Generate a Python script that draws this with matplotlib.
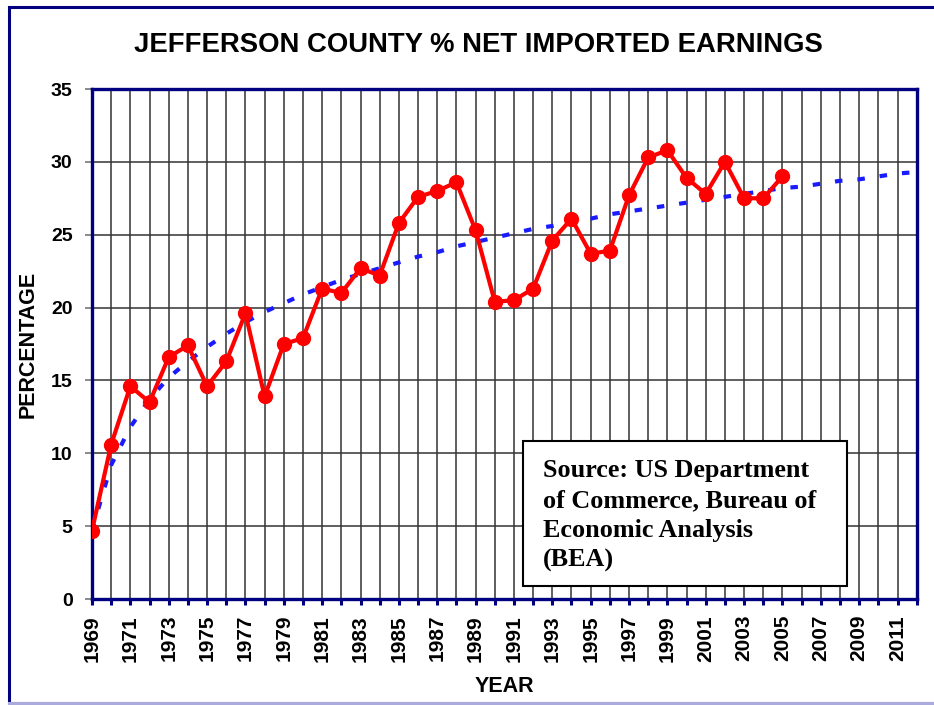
import numpy as np
import matplotlib
matplotlib.use("Agg")
import matplotlib.pyplot as plt
from matplotlib.patches import Rectangle
from matplotlib.lines import Line2D

# Data
years = list(range(1969, 2006))
pct = [4.7, 10.6, 14.6, 13.5, 16.6, 17.4, 14.6, 16.3, 19.6, 13.9,
       17.5, 17.9, 21.3, 21.0, 22.7, 22.2, 25.8, 27.6, 28.0, 28.6,
       25.3, 20.4, 20.5, 21.3, 24.6, 26.1, 23.7, 23.9, 27.7, 30.3,
       30.8, 28.9, 27.8, 30.0, 27.5, 27.5, 29.0]

# log trend line as drawn in the reference (read per year)
trend_years = list(range(1969, 2013))
trend = [4.7, 9.2, 11.8, 13.7, 15.2, 16.3, 17.3, 18.2, 19.0, 19.7,
         20.3, 20.9, 21.4, 21.9, 22.3, 22.7, 23.1, 23.5, 23.8, 24.2,
         24.5, 24.8, 25.1, 25.4, 25.6, 25.9, 26.1, 26.4, 26.6, 26.8,
         27.0, 27.2, 27.4, 27.6, 27.8, 28.0, 28.2, 28.3, 28.5, 28.7,
         28.8, 29.0, 29.2, 29.3]

year_ticks = list(range(1969, 2013))
year_labels = [str(y) if (y - 1969) % 2 == 0 else "" for y in year_ticks]
pct_ticks = [0, 5, 10, 15, 20, 25, 30, 35]

title = "JEFFERSON COUNTY % NET IMPORTED EARNINGS"
source_lines = ["Source: US Department", "of Commerce, Bureau of",
                "Economic Analysis", "(BEA)"]

navy = "#000080"
sans = "Liberation Sans"
serif = "Liberation Serif"

fig = plt.figure(figsize=(9.34, 7.05), dpi=100)
ax = fig.add_axes([92 / 934, 1 - 599 / 705, 824.7 / 934, 510 / 705])

ax.plot(trend_years, trend, color="#1a1aff", lw=3,
        linestyle=(0, (1.8, 3.6)), zorder=3)
ax.plot(years, pct, color="#ff0000", lw=3, marker="o", markersize=10,
        markeredgecolor="#ff0000", zorder=4)

ax.set_xlim(1969, 2012)
ax.set_ylim(0, 35)
ax.set_xticks(year_ticks)
ax.set_xticklabels(year_labels, rotation=90, fontsize=15,
                   fontweight="bold", family=sans)
ax.set_yticks(pct_ticks)
ax.set_yticklabels([str(v) for v in pct_ticks], fontsize=14,
                   fontweight="bold", family=sans)
ax.tick_params(axis="x", direction="out", length=4.5, width=2.2,
               color=navy, pad=7)
ax.tick_params(axis="y", direction="out", length=5, width=1.2,
               color="#777777", pad=9)

ax.grid(True, color="#333333", lw=1.1)
ax.set_axisbelow(True)
for sp in ax.spines.values():
    sp.set_color(navy)
    sp.set_linewidth(2.4)

ax.set_xlabel("YEAR", fontsize=15.5, fontweight="bold", family=sans,
              labelpad=10)
fig.text(0.030, 0.512, "PERCENTAGE", rotation=90, fontsize=15.5,
         fontweight="bold", family=sans, ha="center", va="center")
fig.text(0.512, 0.936, title, fontsize=19.8, fontweight="bold",
         family=sans, ha="center", va="center")

# source box
box = Rectangle((523 / 934, 1 - 586 / 705), 324 / 934, 145 / 705,
                transform=fig.transFigure, facecolor="white",
                edgecolor="black", lw=1.5, zorder=10)
fig.add_artist(box)
for i, line in enumerate(source_lines):
    fig.text(543 / 934, 1 - (477 + 30 * i) / 705, line, fontsize=18.8,
             fontweight="bold", family=serif, ha="left", va="baseline",
             zorder=11)

# outer frame
frame = Rectangle((9 / 934, 2 / 705), 934, 1 - 8.5 / 705,
                  transform=fig.transFigure, facecolor="none",
                  edgecolor=navy, lw=2.2, zorder=12)
fig.add_artist(frame)
fig.add_artist(Line2D([9 / 934, 1], [2 / 705, 2 / 705],
                      transform=fig.transFigure, color="#aaaadd", lw=2.2,
                      zorder=13))

fig.savefig("out.png", dpi=100)
